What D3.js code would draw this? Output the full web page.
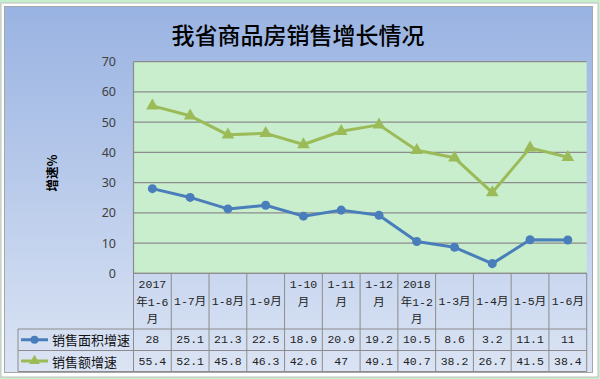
<!DOCTYPE html>
<html>
<head>
<meta charset="utf-8">
<script src="https://cdn.jsdelivr.net/npm/d3@7"></script>
<style>
  html, body { margin: 0; padding: 0; background: #c6efce; }
  svg { display: block; }
</style>
</head>
<body>
<div id="chart"></div>
<script>
// Data
const categories = ["2017年1-6月", "1-7月", "1-8月", "1-9月", "1-10月", "1-11月", "1-12月",
                    "2018年1-2月", "1-3月", "1-4月", "1-5月", "1-6月"];
const headerLines = [["2017", "年1-6", "月"], ["1-7月"], ["1-8月"], ["1-9月"], ["1-10", "月"],
                     ["1-11", "月"], ["1-12", "月"], ["2018", "年1-2", "月"], ["1-3月"],
                     ["1-4月"], ["1-5月"], ["1-6月"]];
const areaGrowth = [28, 25.1, 21.3, 22.5, 18.9, 20.9, 19.2, 10.5, 8.6, 3.2, 11.1, 11];
const salesGrowth = [55.4, 52.1, 45.8, 46.3, 42.6, 47, 49.1, 40.7, 38.2, 26.7, 41.5, 38.4];
const yTicks = [0, 10, 20, 30, 40, 50, 60, 70];

const series = [
  { name: "销售面积增速", values: areaGrowth, color: "#4a7ebb", marker: "circle" },
  { name: "销售额增速", values: salesGrowth, color: "#9bbb59", marker: "triangle" }
];

const width = 600;
const height = 379;
const plotLeft = 133.5, plotRight = 586.7, plotTop = 61.7, plotBottom = 273.3;
const row1Top = 329, row2Top = 350.5, tableBottom = 371.5, labelLeft = 18;

const svg = d3.select("#chart").append("svg")
    .attr("width", width)
    .attr("height", height);

// background gradient
const defs = svg.append("defs");
const grad = defs.append("linearGradient")
    .attr("id", "bg").attr("x1", 0).attr("y1", 0).attr("x2", 0).attr("y2", 1);
grad.append("stop").attr("offset", "0%").attr("stop-color", "#99b3e2");
grad.append("stop").attr("offset", "100%").attr("stop-color", "#dbe4f4");

// spreadsheet grid behind the chart
svg.append("rect").attr("width", width).attr("height", height).attr("fill", "#c6efce");
svg.append("rect")
    .attr("x", 1).attr("y", 3).attr("width", 597).attr("height", 374)
    .attr("fill", "#ffffff").attr("stroke", "#bfbfbf");
svg.append("rect")
    .attr("x", 4.5).attr("y", 6.5).attr("width", 588).attr("height", 366)
    .attr("fill", "url(#bg)").attr("stroke", "#a6a6a6");

// title
svg.append("text")
    .attr("x", 298).attr("y", 34)
    .attr("text-anchor", "middle").attr("dominant-baseline", "central")
    .attr("font-family", "'Noto Sans CJK SC', sans-serif")
    .attr("font-size", 23).attr("font-weight", 500)
    .attr("fill", "#000")
    .text("我省商品房销售增长情况");

// scales
const x = d3.scaleBand().domain(categories).range([plotLeft, plotRight]);
const y = d3.scaleLinear().domain([0, 70]).range([plotBottom, plotTop]);
const cx = d => x(d) + x.bandwidth() / 2;

// plot area
svg.append("rect")
    .attr("x", plotLeft).attr("y", plotTop)
    .attr("width", plotRight - plotLeft).attr("height", plotBottom - plotTop)
    .attr("fill", "#c8eecd");

svg.append("g")
    .selectAll("line")
    .data(yTicks)
    .join("line")
    .attr("x1", plotLeft).attr("x2", plotRight)
    .attr("y1", d => y(d)).attr("y2", d => y(d))
    .attr("stroke", "#8c8c8c").attr("stroke-width", 1.2);

svg.append("line")
    .attr("x1", plotLeft).attr("x2", plotLeft)
    .attr("y1", plotTop).attr("y2", plotBottom)
    .attr("stroke", "#8c8c8c").attr("stroke-width", 1.2);

// y tick labels
svg.append("g")
    .selectAll("text")
    .data(yTicks)
    .join("text")
    .attr("x", 116).attr("y", d => y(d))
    .attr("text-anchor", "end").attr("dominant-baseline", "central")
    .attr("font-family", "'Noto Sans', sans-serif")
    .attr("font-size", 12.5).attr("fill", "#404040")
    .text(d => d);

// y axis title
svg.append("text")
    .attr("transform", "translate(51,173) rotate(-90)")
    .attr("text-anchor", "middle").attr("dominant-baseline", "central")
    .attr("font-family", "'Noto Sans CJK SC', sans-serif")
    .attr("font-size", 12.5).attr("font-weight", 700)
    .text("增速%");

// lines and markers
const line = d3.line()
    .x((d, i) => cx(categories[i]))
    .y(d => y(d));

series.forEach(s => {
  svg.append("path")
      .datum(s.values)
      .attr("d", line)
      .attr("fill", "none")
      .attr("stroke", s.color)
      .attr("stroke-width", 3)
      .attr("stroke-linejoin", "round");

  const sym = s.marker === "circle"
    ? d3.symbol().type(d3.symbolCircle).size(64)
    : d3.symbol().type(d3.symbolTriangle).size(70);

  svg.append("g")
      .selectAll("path")
      .data(s.values)
      .join("path")
      .attr("transform", (d, i) => `translate(${cx(categories[i])},${y(d)})`)
      .attr("d", sym)
      .attr("fill", s.color);
});

// data table
const table = svg.append("g")
    .attr("stroke", "#8c8c8c").attr("stroke-width", 1);

const bounds = categories.map(c => x(c)).concat([plotRight]);
table.selectAll("line.v")
    .data(bounds)
    .join("line")
    .attr("class", "v")
    .attr("x1", d => d).attr("x2", d => d)
    .attr("y1", plotBottom).attr("y2", tableBottom);

table.append("line")
    .attr("x1", labelLeft).attr("x2", labelLeft)
    .attr("y1", row1Top).attr("y2", tableBottom);

table.selectAll("line.h")
    .data([row1Top, row2Top, tableBottom])
    .join("line")
    .attr("class", "h")
    .attr("x1", labelLeft).attr("x2", plotRight)
    .attr("y1", d => d).attr("y2", d => d);

table.append("line")
    .attr("x1", plotLeft).attr("x2", plotRight)
    .attr("y1", plotBottom).attr("y2", plotBottom);

const cellFont = "'Liberation Mono', 'Noto Sans CJK SC', monospace";

// header labels
categories.forEach((c, i) => {
  const lines = headerLines[i];
  const t = svg.append("text")
      .attr("text-anchor", "middle")
      .attr("font-family", cellFont)
      .attr("font-size", 11.5).attr("fill", "#222");
  lines.forEach((l, j) => {
    const yy = lines.length === 1 ? 301.5 : 284.5 + j * 17.5;
    t.append("tspan")
        .attr("x", cx(c)).attr("y", yy)
        .attr("dominant-baseline", "central")
        .text(l);
  });
});

// value rows and legend keys
const rowCenters = [(row1Top + row2Top) / 2, (row2Top + tableBottom) / 2];
series.forEach((s, k) => {
  const yy = rowCenters[k];
  svg.append("g")
      .selectAll("text")
      .data(s.values)
      .join("text")
      .attr("x", (d, i) => cx(categories[i])).attr("y", yy)
      .attr("text-anchor", "middle").attr("dominant-baseline", "central")
      .attr("font-family", cellFont)
      .attr("font-size", 11.5).attr("fill", "#222")
      .text(d => d);

  svg.append("line")
      .attr("x1", 21).attr("x2", 48).attr("y1", yy).attr("y2", yy)
      .attr("stroke", s.color).attr("stroke-width", 3);
  const sym = s.marker === "circle"
    ? d3.symbol().type(d3.symbolCircle).size(50)
    : d3.symbol().type(d3.symbolTriangle).size(50);
  svg.append("path")
      .attr("transform", `translate(34.5,${yy})`)
      .attr("d", sym)
      .attr("fill", s.color);

  svg.append("text")
      .attr("x", 52).attr("y", yy)
      .attr("dominant-baseline", "central")
      .attr("font-family", "'Noto Sans CJK SC', sans-serif")
      .attr("font-size", 13).attr("fill", "#111")
      .text(s.name);
});
</script>
</body>
</html>
